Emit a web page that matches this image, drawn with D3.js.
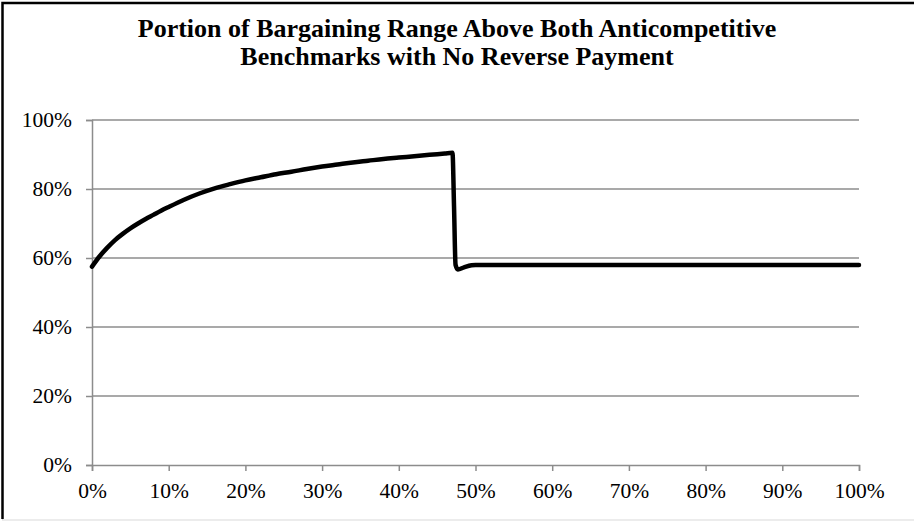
<!DOCTYPE html>
<html>
<head>
<meta charset="utf-8">
<script src="https://cdn.jsdelivr.net/npm/d3@7"></script>
<style>
  body { margin: 0; background: #fff; }
  text { font-family: "Liberation Serif", "Times New Roman", serif; }
</style>
</head>
<body>
<script>
// share of the settlement range (x) vs portion above both benchmarks (y), in %
const xValues = [0, 1, 2, 3, 4, 5, 6, 7, 8, 9, 10, 12, 14, 16, 18, 20, 22, 24, 26, 28, 30,
  32, 34, 36, 38, 40, 42, 44, 46, 47, 47.2, 47.4, 47.7, 48.5, 49.5, 50, 60, 70, 80, 90, 100];
const yValues = [57.5, 60.5, 63, 65.2, 67, 68.6, 70, 71.3, 72.5, 73.7, 74.8, 76.9, 78.7, 80.2, 81.4, 82.5, 83.4, 84.3, 85, 85.8, 86.5,
  87.1, 87.7, 88.2, 88.7, 89.1, 89.5, 89.9, 90.3, 90.5, 75, 58, 56.7, 57.3, 57.9, 58, 58, 58, 58, 58, 58];
const xTicks = [0, 10, 20, 30, 40, 50, 60, 70, 80, 90, 100];
const yTicks = [0, 20, 40, 60, 80, 100];
const titleLines = ['Portion of Bargaining Range Above Both Anticompetitive',
  'Benchmarks with No Reverse Payment'];

const W = 914, H = 521;
const margin = { top: 120, right: 55, bottom: 56, left: 92 };
const width = W - margin.left - margin.right;
const height = H - margin.top - margin.bottom;

const svg = d3.select('body').append('svg')
    .attr('width', W)
    .attr('height', H);

// chart frame
svg.append('rect')
    .attr('x', 2.5).attr('y', 3)
    .attr('width', W).attr('height', H - 4)
    .attr('fill', 'none')
    .attr('stroke', '#d9d9d9')
    .attr('stroke-width', 1);
svg.append('path')
    .attr('d', `M2.5,${H - 2}V3H${W}`)
    .attr('fill', 'none')
    .attr('stroke', '#000')
    .attr('stroke-width', 2.5);

svg.append('g')
    .selectAll('text')
    .data(titleLines)
    .enter().append('text')
    .attr('x', 457)
    .attr('y', (d, i) => 37 + i * 28)
    .attr('text-anchor', 'middle')
    .style('font-size', '26px')
    .style('font-weight', 'bold')
    .text(d => d);

const g = svg.append('g')
    .attr('transform', `translate(${margin.left},${margin.top})`);

const xScale = d3.scaleLinear().domain([0, 100]).range([0, width]);
const yScale = d3.scaleLinear().domain([0, 100]).range([height, 0]);

// gridlines
g.append('g')
    .selectAll('line')
    .data(yTicks.filter(d => d > 0))
    .enter().append('line')
    .attr('x1', 0).attr('x2', width)
    .attr('y1', d => yScale(d)).attr('y2', d => yScale(d))
    .attr('stroke', '#8c8c8c')
    .attr('stroke-width', 1.3);

const fmt = d => d + '%';

const yAxis = g.append('g')
    .call(d3.axisLeft(yScale).tickValues(yTicks).tickFormat(fmt).tickSize(6).tickPadding(14));
const xAxis = g.append('g')
    .attr('transform', `translate(0,${height})`)
    .call(d3.axisBottom(xScale).tickValues(xTicks).tickFormat(fmt).tickSize(6).tickPadding(12));

[xAxis, yAxis].forEach(a => {
    a.select('.domain').attr('stroke', '#8c8c8c').attr('stroke-width', 1.5);
    a.selectAll('.tick line').attr('stroke', '#8c8c8c').attr('stroke-width', 1.5);
    a.selectAll('.tick text')
        .style('font-family', '"Liberation Serif", "Times New Roman", serif')
        .style('font-size', '21.5px')
        .attr('fill', '#000');
});

const data = xValues.map((x, i) => ({ x, y: yValues[i] }));

const line = d3.line()
    .x(d => xScale(d.x))
    .y(d => yScale(d.y))
    .curve(d3.curveMonotoneX);

g.append('path')
    .datum(data)
    .attr('d', line)
    .attr('fill', 'none')
    .attr('stroke', '#000')
    .attr('stroke-width', 4.5)
    .attr('stroke-linejoin', 'round')
    .attr('stroke-linecap', 'round');
</script>
</body>
</html>
